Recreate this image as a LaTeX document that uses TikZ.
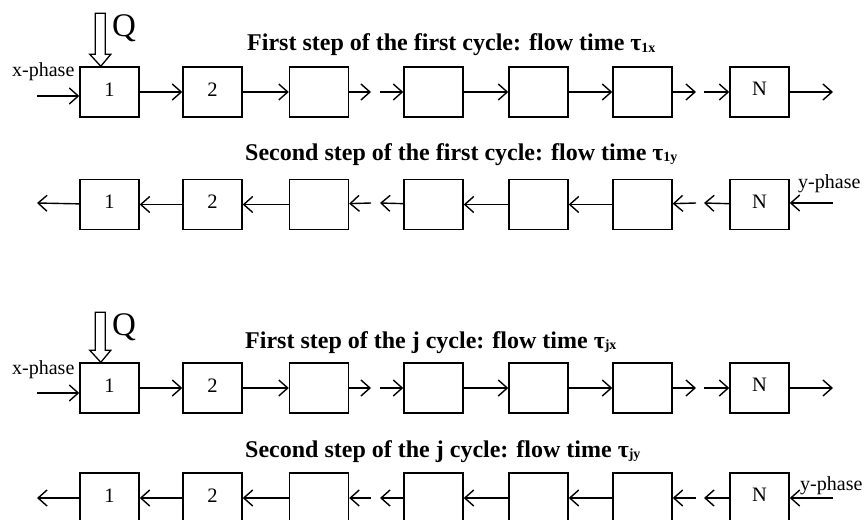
\documentclass[tikz,border=0pt]{standalone}
\usepackage{fontspec}
\setmainfont{Liberation Serif}
\usetikzlibrary{arrows.meta,calc}
\newcommand{\tsb}[1]{\raisebox{-1.5pt}{\fontsize{14}{14}\selectfont #1}}
\newcommand{\bl}[1]{\raisebox{5.5pt}{#1}}
\begin{document}
\begin{tikzpicture}[x=1pt,y=-1pt,
  blk/.style={draw,line width=1.4pt,minimum width=59pt,minimum height=50pt,inner sep=0pt,font=\fontsize{20.5}{20.5}\selectfont},
  flow/.style={line width=1.4pt,-{Straight Barb[length=9pt,width=16pt,line width=1.4pt]}},
  ttl/.style={anchor=base west,inner sep=0pt,font=\fontsize{24}{24}\selectfont\bfseries},
  lbl/.style={anchor=base west,inner sep=0pt,font=\fontsize{20}{20}\selectfont},
  qlbl/.style={anchor=base west,inner sep=0pt,font=\fontsize{33}{33}\selectfont},
  qarr/.style={line width=1.3pt,line join=miter}]
\useasboundingbox[fill=white] (0,0) rectangle (864,519);

% boxes
\foreach \r/\y in {1/92,2/204.5,3/388,4/498}{
  \node[blk] (r\r b1) at (109.5,\y) {\bl{1}};
  \node[blk] (r\r b2) at (212.5,\y) {\bl{2}};
  \node[blk] (r\r b3) at (319,\y) {};
  \node[blk] (r\r b4) at (433.5,\y) {};
  \node[blk] (r\r b5) at (538.5,\y) {};
  \node[blk] (r\r b6) at (642.5,\y) {};
  \node[blk] (r\r bN) at (759.5,\y) {\bl{N}};
}

% titles
\node[ttl] (t1) at (247,51) {First step of the first cycle: flow time τ\tsb{1x}};
\node[ttl] (t2) at (245,160) {Second step of the first cycle: flow time τ\tsb{1y}};
\node[ttl] (t3) at (245,348) {First step of the j cycle: flow time τ\tsb{jx}};
\node[ttl] (t4) at (245,457) {Second step of the j cycle: flow time τ\tsb{jy}};

% phase labels
\node[lbl] (xp1) at (12,76) {x-phase};
\node[lbl] (xp3) at (12,374) {x-phase};
\node[lbl] (yp2) at (798,188) {y-phase};
\node[lbl] (yp4) at (800,490) {y-phase};

% Q labels and heat arrows
\node[qlbl] (q1) at (112,37) {Q};
\node[qlbl] (q3) at (112,335) {Q};
\coordinate (qt1) at ($(r1b1.north west)+(21.5,0)$);
\coordinate (qt3) at ($(r3b1.north west)+(21.5,0)$);
\draw[qarr] (qt1) -- ++(-11,-12) -- ++(5.5,0) -- ++(0,-41) -- ++(10,0) -- ++(0,41) -- ++(5.5,0) -- cycle;
\draw[qarr] (qt3) -- ++(-11,-12) -- ++(5.5,0) -- ++(0,-38) -- ++(10,0) -- ++(0,38) -- ++(5.5,0) -- cycle;

% forward rows
\foreach \r/\y/\yi in {1/92/96,3/388/393}{
  \coordinate (r\r in) at (37,\yi);
  \coordinate (r\r s1) at (371,\y);
  \coordinate (r\r s2) at (380,\y);
  \coordinate (r\r s3) at (696,\y);
  \coordinate (r\r s4) at (704,\y);
  \coordinate (r\r out) at (833,\y);
  \draw[flow] (r\r in) -- (r\r in -| r\r b1.west);
  \draw[flow] (r\r b1) -- (r\r b2);
  \draw[flow] (r\r b2) -- (r\r b3);
  \draw[flow] (r\r b3) -- (r\r s1);
  \draw[flow] (r\r s2) -- (r\r b4);
  \draw[flow] (r\r b4) -- (r\r b5);
  \draw[flow] (r\r b5) -- (r\r b6);
  \draw[flow] (r\r b6) -- (r\r s3);
  \draw[flow] (r\r s4) -- (r\r bN);
  \draw[flow] (r\r bN) -- (r\r out);
}

% backward rows
\foreach \r/\y in {2/203,4/498}{
  \coordinate (r\r in) at (833,\y);
  \coordinate (r\r s1) at (371,\y);
  \coordinate (r\r s2) at (380,\y);
  \coordinate (r\r s3) at (696,\y);
  \coordinate (r\r s4) at (704,\y);
  \coordinate (r\r out) at (37,\y);
  \draw[flow] (r\r in) -- (r\r in -| r\r bN.east);
  \draw[flow] (r\r bN) -- (r\r s4);
  \draw[flow] (r\r s3) -- (r\r b6);
  \draw[flow] (r\r b6) -- (r\r b5);
  \draw[flow] (r\r b5) -- (r\r b4);
  \draw[flow] (r\r b4) -- (r\r s2);
  \draw[flow] (r\r s1) -- (r\r b3);
  \draw[flow] (r\r b3) -- (r\r b2);
  \draw[flow] (r\r b2) -- (r\r b1);
  \draw[flow] (r\r b1) -- (r\r out);
}
\end{tikzpicture}
\end{document}
